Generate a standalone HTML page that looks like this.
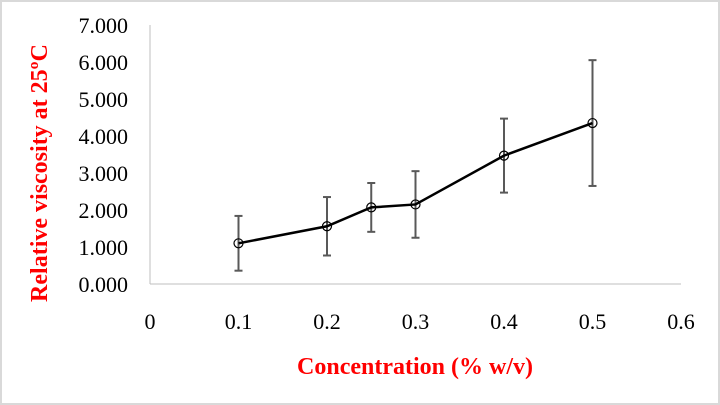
<!DOCTYPE html>
<html><head><meta charset="utf-8"><style>
body{margin:0;background:#fff}
svg{display:block}
text{font-family:"Liberation Serif",serif}
</style></head><body>
<svg width="720" height="405">
<rect x="1" y="1" width="718" height="403" fill="#fff" stroke="#d9d9d9" stroke-width="2"/>
<g id="axes"></g>
<g id="series"></g>
<text x="415" y="374" text-anchor="middle" font-size="24" font-weight="bold" fill="#ff0000">Concentration (% w/v)</text>
<text transform="translate(47,173) rotate(-90)" text-anchor="middle" font-size="24" font-weight="bold" fill="#ff0000">Relative viscosity at 25ºC</text>
</svg>
<script>
const xs=[0.1,0.2,0.25,0.3,0.4,0.5];
const ys=[1.1,1.56,2.07,2.15,3.47,4.35];
const errs=[0.74,0.79,0.66,0.9,1.0,1.7];
const xTicks=[0,0.1,0.2,0.3,0.4,0.5,0.6];
const yTicks=[0,1,2,3,4,5,6,7];
const NS="http://www.w3.org/2000/svg";
const X=v=>150+v/0.6*531;
const Y=v=>284-v/7*259;
const ax=document.getElementById('axes'),se=document.getElementById('series');
function mk(tag,at,par){const e=document.createElementNS(NS,tag);for(const k in at)e.setAttribute(k,at[k]);par.appendChild(e);return e;}
let l=mk('line',{x1:150,y1:284,x2:681,y2:284,stroke:'#bfbfbf','stroke-width':1},ax);


l=mk('line',{x1:150,y1:Y(7),x2:150,y2:284,stroke:'#bfbfbf','stroke-width':1},ax);


xTicks.forEach(t=>{const e=mk('text',{x:X(t),y:329,'text-anchor':'middle','font-size':22,fill:'#000'},ax);e.textContent=String(t);

});
yTicks.forEach(t=>{const e=mk('text',{x:128,y:Y(t)+8,'text-anchor':'end','font-size':22,fill:'#000'},ax);e.textContent=t.toFixed(3);

});
xs.forEach((x,i)=>{const g=mk('g',{},se);


const cx=X(x),t=Y(ys[i]+errs[i]),b=Y(ys[i]-errs[i]);
mk('line',{x1:cx,y1:t,x2:cx,y2:b,stroke:'#595959','stroke-width':2},g);
mk('line',{x1:cx-4,y1:t,x2:cx+4,y2:t,stroke:'#595959','stroke-width':2},g);
mk('line',{x1:cx-4,y1:b,x2:cx+4,y2:b,stroke:'#595959','stroke-width':2},g);});
const p=mk('polyline',{points:xs.map((x,i)=>X(x)+','+Y(ys[i])).join(' '),fill:'none',stroke:'#000','stroke-width':2.5},se);


xs.forEach((x,i)=>{const c=mk('circle',{cx:X(x),cy:Y(ys[i]),r:4.5,fill:'none',stroke:'#000','stroke-width':1.2},se);

});
</script>
</body></html>
